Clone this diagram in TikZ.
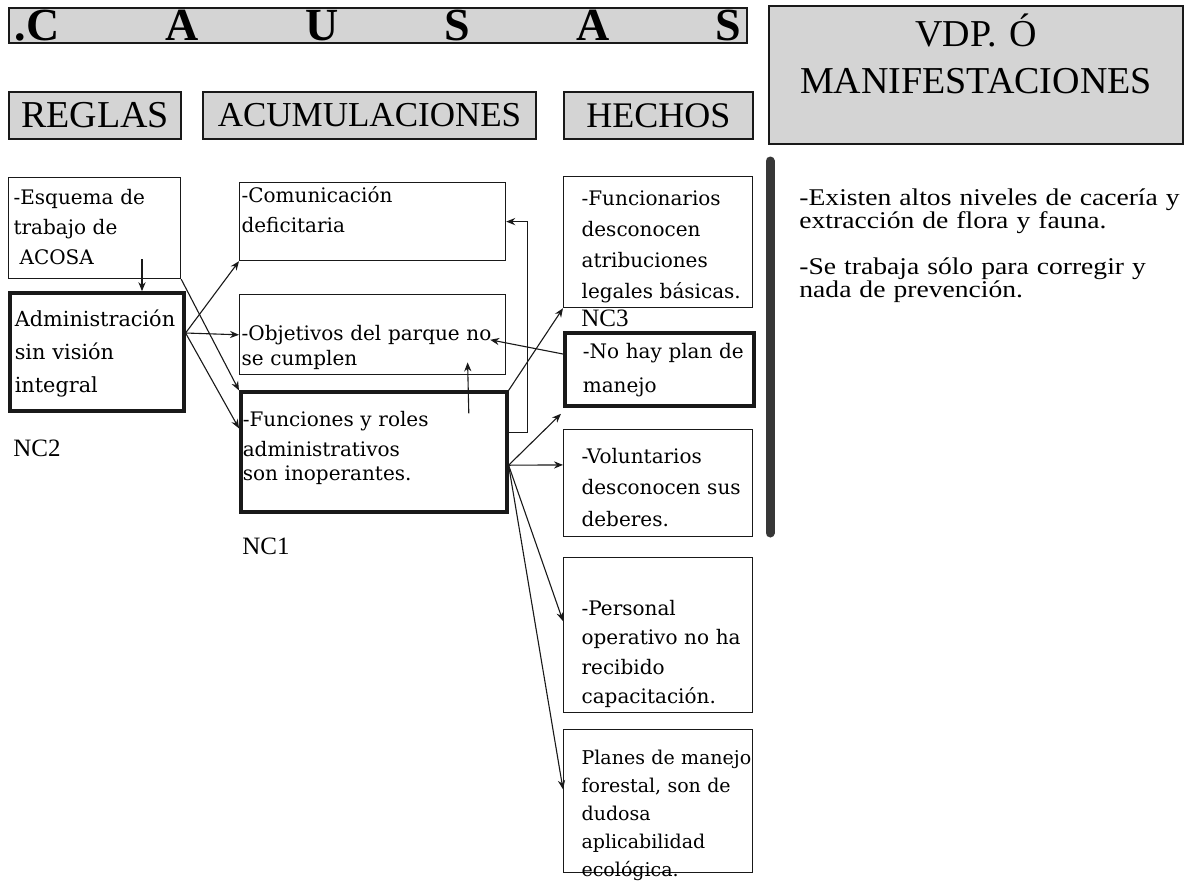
\documentclass[tikz,border=0pt]{standalone}
\usepackage{fontspec}
\setmainfont{Liberation Serif}
\newfontfamily\cajafont{DejaVu Serif}
\newfontfamily\anchafont{Liberation Serif}[FakeStretch=1.15]
\usetikzlibrary{positioning,arrows.meta,calc}
\definecolor{cGris}{RGB}{212,212,212}
\definecolor{cLinea}{RGB}{25,25,25}
\definecolor{cBarra}{RGB}{55,55,55}
\hyphenpenalty=10000
\exhyphenpenalty=10000
\tikzset{
  titulo/.style={rectangle, draw=cLinea, line width=1pt, fill=cGris,
                 inner xsep=3pt, inner ysep=0pt, minimum height=17.5pt,
                 font=\bfseries\fontsize{23}{23}\selectfont},
  hdr/.style={rectangle, draw=cLinea, line width=1pt, fill=cGris,
              inner sep=0pt, minimum height=23.5pt,
              font=\fontsize{19}{19}\selectfont},
  caja/.style={rectangle, draw=cLinea, line width=0.6pt, fill=white,
               align=left, inner ysep=0pt,
               font=\cajafont\fontsize{10}{15}\selectfont},
  cajaA/.style={caja, text width=131pt, inner xsep=1pt},
  cajaH/.style={caja, text width=76.5pt, inner xsep=9pt},
  nc/.style={line width=1.8pt},
  etiq/.style={inner sep=0pt, font=\fontsize{12.5}{13}\selectfont},
  flecha/.style={-{Stealth[length=4.5pt,width=3.6pt]}, draw=cLinea, line width=0.55pt},
  barra/.style={draw=cBarra, line width=4.5pt, line cap=round},
}

\begin{document}
\begin{tikzpicture}
  \useasboundingbox (0,0) rectangle (592pt,-442.5pt);

  %====================== ENCABEZADOS ======================
  \node[titulo, anchor=north west] (causas) at (4pt,-3.5pt)
       {\hbox to 363pt{.C\hfill A\hfill U\hfill S\hfill A\hfill S}};
  \node[hdr, right=10pt of causas.north east, anchor=north west, yshift=1pt,
        text width=207pt, align=center, text height=20pt, text depth=49pt,
        font=\fontsize{19}{23.5}\selectfont] (vdp)
       {VDP. Ó\\MANIFESTACIONES};

  \node[hdr, below=23.5pt of causas.south west, anchor=north west,
        minimum width=86pt] (reglas) {REGLAS};
  \node[hdr, right=10pt of reglas.north east, anchor=north west,
        minimum width=166.5pt, font=\fontsize{17.5}{18}\selectfont] (acum) {ACUMULACIONES};
  \node[hdr, right=13pt of acum.north east, anchor=north west,
        minimum width=94.5pt, font=\fontsize{18}{18}\selectfont] (hechos) {HECHOS};

  %====================== REGLAS ======================
  \node[caja, below=18.5pt of reglas.south west, anchor=north west,
        text width=81pt, inner xsep=2.5pt, text height=13.3pt, text depth=37.2pt] (esquema)
       {-Esquema de\\trabajo de\\\hspace*{3pt}ACOSA};
  \node[caja, nc, below=6pt of esquema.south west, anchor=north west,
        text width=82pt, inner xsep=2.5pt, text height=16.8pt, text depth=42.2pt,
        font=\cajafont\fontsize{10.4}{16.5}\selectfont] (admin)
       {Administración\\sin visión\\integral};
  \node[etiq, below=13.5pt of admin.south west, anchor=north west, xshift=2.5pt] (nc2) {NC2};

  %====================== ACUMULACIONES ======================
  \node[cajaA, below=21pt of acum.south west, anchor=north west, xshift=18.5pt,
        text height=9.8pt, text depth=29.2pt] (comun)
       {-Comunicación\\deficitaria};
  \node[cajaA, below=16.5pt of comun.south west, anchor=north west,
        text height=22.8pt, text depth=17.2pt,
        font=\cajafont\fontsize{10}{12.5}\selectfont] (objet)
       {-Objetivos del parque~no\\se cumplen};
  \node[cajaA, nc, below=7.5pt of objet.south west, anchor=north west,
        text height=17pt, text depth=43pt,
        font=\cajafont\fontsize{10}{12}\selectfont] (funcs)
       {-Funciones y roles\\[3pt]administrativos\\son inoperantes.};
  \node[etiq, below=12pt of funcs.south west, anchor=north west, xshift=1.5pt] (nc1) {NC1};

  %====================== HECHOS ======================
  \node[cajaH, below=18pt of hechos.south west, anchor=north west,
        text height=14.3pt, text depth=51.2pt,
        font=\cajafont\fontsize{10}{15.5}\selectfont] (funcio)
       {-Funcionarios\\desconocen\\atribuciones\\legales~básicas.};
  \node[etiq, below=0.5pt of funcio.south west, anchor=north west, xshift=9pt] (nc3) {NC3};
  \node[cajaH, nc, below=11.5pt of funcio.south west, anchor=north west,
        text height=12.8pt, text depth=23.7pt,
        font=\cajafont\fontsize{10}{17}\selectfont] (nohay)
       {-No~hay~plan~de\\manejo};
  \node[cajaH, below=10.5pt of nohay.south west, anchor=north west,
        text height=16.8pt, text depth=36.7pt,
        font=\cajafont\fontsize{10}{15.75}\selectfont] (volun)
       {-Voluntarios\\desconocen~sus\\deberes.};
  \node[cajaH, below=10pt of volun.south west, anchor=north west,
        text height=28.8pt, text depth=48.7pt,
        font=\cajafont\fontsize{10}{14.7}\selectfont] (person)
       {-Personal\\operativo~no~ha\\recibido\\capacitación.};
  \node[cajaH, below=8pt of person.south west, anchor=north west,
        text height=17.3pt, text depth=54.2pt,
        font=\cajafont\fontsize{9.5}{14}\selectfont] (planes)
       {Planes~de~manejo\\forestal,~son~de\\dudosa\\aplicabilidad\\ecológica.};

  %====================== MANIFESTACIONES ======================
  \coordinate[below=8pt of vdp.south west, xshift=1pt] (barTop);
  \draw[barra] (barTop) -- ($(barTop |- volun.south)+(0,2pt)$);
  \node[etiq, below=22pt of vdp.south west, anchor=north west, xshift=15.5pt,
        text width=200pt, align=left, text height=8pt,
        font=\anchafont\fontsize{12}{11.5}\selectfont] (manif)
       {-Existen altos niveles de cacería y\\extracción de flora y fauna.\\[11.5pt]
        -Se trabaja sólo para corregir y\\nada de prevención.};

  %====================== CONECTORES ======================
  % reglas hacia abajo y hacia funciones
  \coordinate (eA) at ($(esquema.south west)+(67pt,10pt)$);
  \draw[flecha] (eA) -- (eA |- admin.north);
  \draw[flecha] (esquema.south east) -- (funcs.north west);

  % administracion hacia las acumulaciones
  \coordinate (aR) at ($(admin.east)+(0,9.5pt)$);
  \draw[flecha] (aR) -- (comun.south west);
  \draw[flecha] (aR) -- (objet.west);
  \draw[flecha] (aR) -- ($(funcs.north west)+(0,-19pt)$);

  % funciones se realimenta
  \draw[flecha] ($(funcs.north east)+(0,-21pt)$) -- ++(9.5pt,0) |- (comun.east);
  \draw[flecha] ($(funcs.north)+(47.5pt,-11.5pt)$) -- ($(objet.south)+(47.5pt,6.5pt)$);
  \draw[flecha] ($(nohay.west)+(0,7.75pt)$) -- ($(objet.east)+(-8pt,-2.5pt)$);
  \draw[flecha] (funcs.north east) -- (funcio.south west);

  % funciones hacia los hechos
  \coordinate (fS) at ($(funcs.east)+(0,-6.5pt)$);
  \coordinate (libre) at ($(volun.north west)+(-1pt,7.5pt)$);
  \draw[flecha] (fS) -- (libre);
  \draw[flecha] (fS) -- ($(volun.west)+(0,9pt)$);
  \draw[flecha] (fS) -- ($(person.west)+(0,7pt)$);
  \draw[flecha] (fS) -- ($(planes.west)+(0,6pt)$);

\end{tikzpicture}
\end{document}
